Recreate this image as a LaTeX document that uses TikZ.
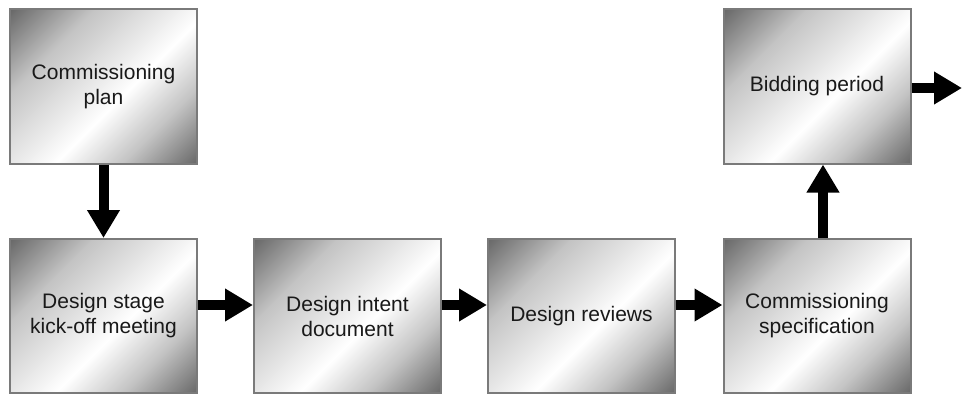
\documentclass[tikz,border=0pt]{standalone}
\usepackage{fontspec}
\setmainfont{Liberation Sans}
\usetikzlibrary{arrows.meta}

\definecolor{gradcorner}{HTML}{656565}
\definecolor{gradmid}{HTML}{C4C4C4}
\definecolor{gradlight}{HTML}{EBEBEB}
\pgfdeclareverticalshading{stagegrad}{100bp}{
    color(0bp)=(gradcorner); color(14bp)=(gradcorner); color(30bp)=(gradmid);
    color(44bp)=(white); color(52bp)=(gradlight); color(68bp)=(gradmid);
    color(86bp)=(gradcorner); color(100bp)=(gradcorner)}

\tikzset{
    stagebox/.style={draw=black!52, line width=2pt, minimum width=187pt, minimum height=154pt,
        align=center, inner sep=0pt, font=\fontsize{21}{25}\selectfont, text=black!90,
        shading=stagegrad, shading angle=45},
    flow/.style={line width=10pt, -{Triangle[length=28pt, width=31pt]}}
}

\begin{document}
\begin{tikzpicture}[x=1pt, y=-1pt]
        \useasboundingbox (0, 0) rectangle (962, 396);

        % Nodes
        \node[stagebox] (plan) at (103.5, 86.5) {Commissioning\\plan};
        \node[stagebox] (kickoff) at (103.5, 316) {Design stage\\kick-off meeting};
        \node[stagebox] (intent) at (347.5, 316) {Design intent\\document};
        \node[stagebox] (reviews) at (581.5, 316) {Design reviews};
        \node[stagebox] (spec) at (817, 316) {Commissioning\\specification};
        \node[stagebox] (bidding) at (817, 86.5) {Bidding period};
        \coordinate (next) at (962, 88);

        % Edges
        \draw[flow] (plan) -- (kickoff);
        \draw[flow] ([yshift=11pt]kickoff.east) -- ([yshift=11pt]intent.west);
        \draw[flow] ([yshift=11pt]intent.east) -- ([yshift=11pt]reviews.west);
        \draw[flow] ([yshift=11pt]reviews.east) -- ([yshift=11pt]spec.west);
        \draw[flow] ([xshift=6pt]spec.north) -- ([xshift=6pt]bidding.south);
        \draw[flow] (bidding.east |- next) -- (next);
    \end{tikzpicture}
\end{document}
